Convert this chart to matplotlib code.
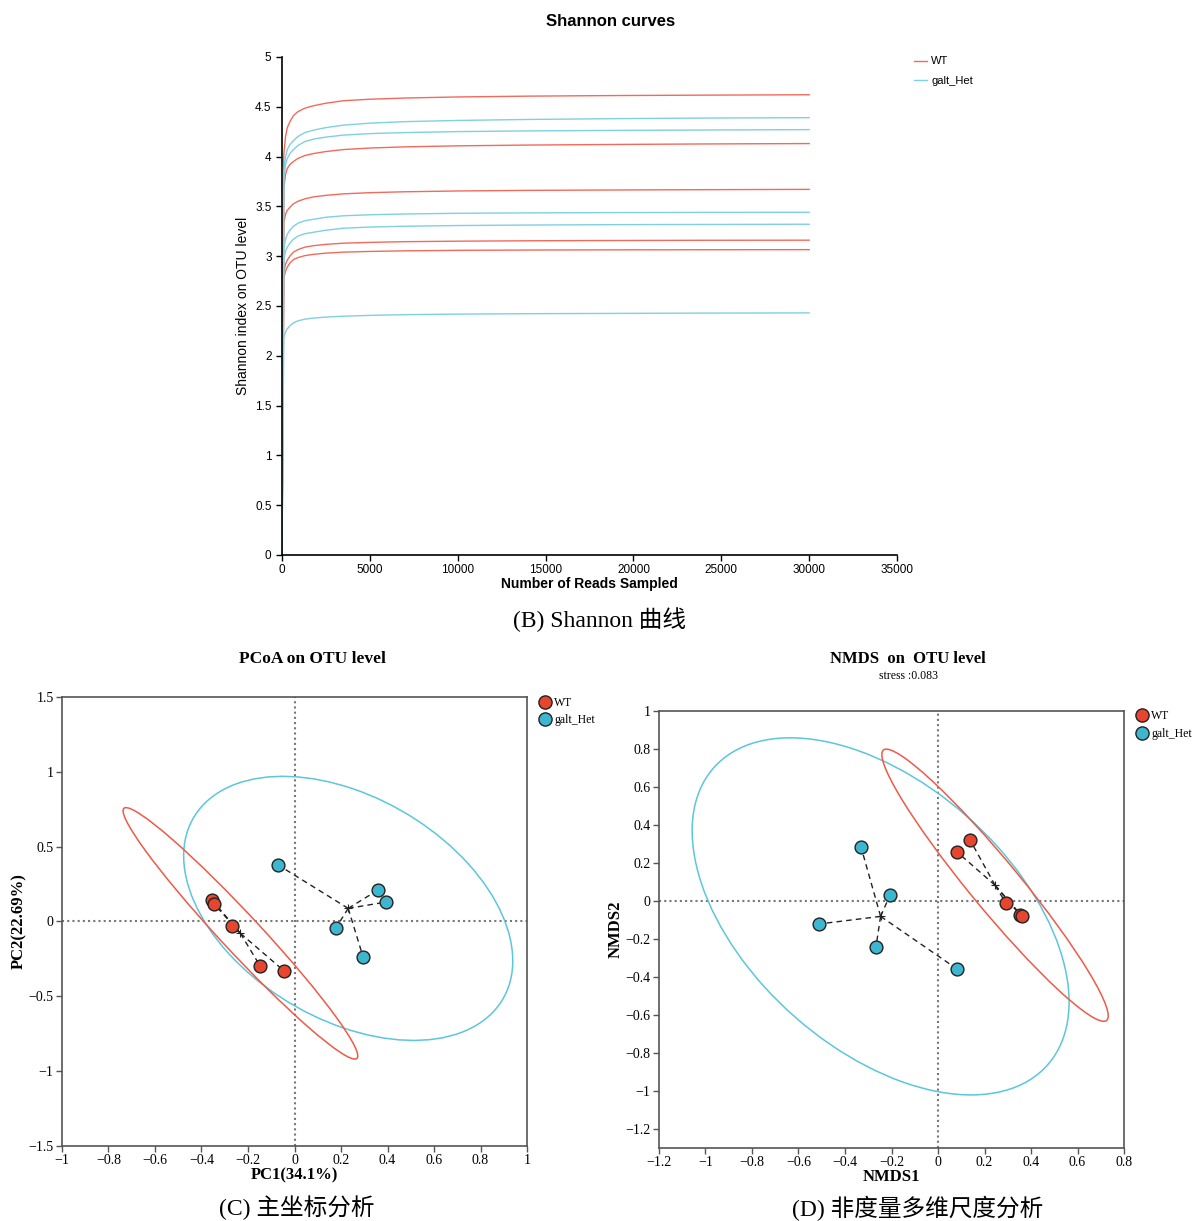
import numpy as np
import matplotlib
matplotlib.use("Agg")
import matplotlib.pyplot as plt
from matplotlib.patches import Ellipse
from matplotlib.ticker import FuncFormatter

# ---- Shannon rarefaction curves ----
reads = [0, 100, 200, 300, 450, 650, 900, 1300, 1800, 2500, 3500, 5000,
         7000, 10000, 14000, 19000, 24000, 30000]

wt_curves = [
    [0, 4.02, 4.20, 4.29, 4.35, 4.41, 4.45, 4.485, 4.51, 4.535, 4.56, 4.575,
     4.587, 4.598, 4.606, 4.612, 4.616, 4.62],
    [0, 3.68, 3.82, 3.88, 3.92, 3.95, 3.98, 4.01, 4.03, 4.05, 4.07, 4.085,
     4.097, 4.107, 4.115, 4.121, 4.126, 4.13],
    [0, 3.33, 3.42, 3.46, 3.49, 3.525, 3.55, 3.575, 3.595, 3.61, 3.625, 3.637,
     3.646, 3.654, 3.66, 3.664, 3.667, 3.67],
    [0, 2.84, 2.92, 2.96, 3.00, 3.04, 3.065, 3.09, 3.105, 3.118, 3.13, 3.138,
     3.145, 3.15, 3.154, 3.157, 3.159, 3.16],
    [0, 2.78, 2.85, 2.89, 2.93, 2.965, 2.985, 3.005, 3.018, 3.03, 3.04, 3.047,
     3.053, 3.058, 3.061, 3.063, 3.064, 3.065],
]
het_curves = [
    [0, 3.85, 4.00, 4.07, 4.12, 4.16, 4.20, 4.24, 4.265, 4.29, 4.315, 4.335,
     4.35, 4.362, 4.372, 4.38, 4.386, 4.39],
    [0, 3.78, 3.92, 3.98, 4.03, 4.07, 4.11, 4.15, 4.175, 4.195, 4.215, 4.23,
     4.24, 4.25, 4.257, 4.262, 4.266, 4.27],
    [0, 3.08, 3.17, 3.22, 3.26, 3.30, 3.33, 3.355, 3.37, 3.39, 3.405, 3.415,
     3.423, 3.43, 3.434, 3.437, 3.439, 3.44],
    [0, 2.97, 3.05, 3.09, 3.13, 3.17, 3.20, 3.225, 3.24, 3.26, 3.28, 3.292,
     3.30, 3.307, 3.312, 3.316, 3.318, 3.32],
    [0, 2.18, 2.24, 2.27, 2.30, 2.33, 2.35, 2.367, 2.378, 2.388, 2.397, 2.405,
     2.412, 2.418, 2.422, 2.425, 2.428, 2.43],
]

# ---- PCoA scores ----
pcoa_wt_x = [-0.355, -0.346, -0.269, -0.148, -0.045]
pcoa_wt_y = [0.144, 0.117, -0.030, -0.297, -0.330]
pcoa_het_x = [-0.071, 0.359, 0.394, 0.178, 0.295]
pcoa_het_y = [0.378, 0.210, 0.130, -0.043, -0.237]
# ellipse: width, height, angle (data units)
pcoa_wt_ell = [1.95, 0.194, -59.3]
pcoa_het_ell = [1.922, 1.192, -59.6]

# ---- NMDS scores ----
nmds_wt_x = [0.082, 0.138, 0.292, 0.353, 0.361]
nmds_wt_y = [0.258, 0.321, -0.011, -0.074, -0.079]
nmds_het_x = [-0.331, -0.206, -0.512, -0.267, 0.082]
nmds_het_y = [0.284, 0.032, -0.121, -0.242, -0.358]
nmds_wt_ell = [1.717, 0.228, -56.2]
nmds_het_ell = [2.147, 1.245, -53.6]

groups = ['WT', 'galt_Het']

line_red = '#F26A5A'
line_blue = '#7FD0E2'
pt_red = '#E8452E'
pt_blue = '#3DB6CF'
ell_red = '#EE5A48'
ell_blue = '#5CC6DB'

sans = ['Liberation Sans', 'DejaVu Sans']
serif = ['Liberation Serif', 'DejaVu Serif']
cap_font = ['Liberation Serif', 'Noto Sans CJK SC']

fig = plt.figure(figsize=(11.94, 12.21), dpi=100)

# ================= Shannon curves =================
ax = fig.add_axes([0.2362, 0.5455, 0.5151, 0.4079])
for c in wt_curves:
    ax.plot(reads, c, color=line_red, lw=1)
for c in het_curves:
    ax.plot(reads, c, color=line_blue, lw=1)
ax.set_xlim(0, 35000)
ax.set_ylim(0, 5)
ax.set_xticks(range(0, 35001, 5000))
ax.set_yticks(np.arange(0, 5.01, 0.5))
ax.yaxis.set_major_formatter(FuncFormatter(lambda v, p: '{:g}'.format(v)))
for s in ['top', 'right']:
    ax.spines[s].set_visible(False)
for s in ['left', 'bottom']:
    ax.spines[s].set_linewidth(1.2)
ax.tick_params(length=4, width=1, labelsize=8.5)
ax.tick_params(axis='x', pad=2.5)
for lab in ax.get_xticklabels() + ax.get_yticklabels():
    lab.set_family(sans)
ax.set_xlabel('Number of Reads Sampled', fontsize=10, fontweight='bold',
              family=sans, labelpad=1)
ax.set_ylabel('Shannon index on OTU level', fontsize=10, family=sans, labelpad=4)
h1, = ax.plot([], [], color=line_red, lw=1)
h2, = ax.plot([], [], color=line_blue, lw=1)
fig.legend([h1, h2], groups, loc='upper left', bbox_to_anchor=(0.757, 0.962),
           frameon=False, prop={'family': sans, 'size': 8}, handlelength=1.2,
           handletextpad=0.35, labelspacing=0.85)
fig.text(0.5117, 0.9828, 'Shannon curves', ha='center', va='center',
         fontsize=12, fontweight='bold', family=sans)
fig.text(0.5025, 0.4922, '(B) Shannon 曲线', ha='center', va='center',
         fontsize=17, family=cap_font)


def fmt(v, p):
    s = '{:g}'.format(round(v, 2) + 0.0)
    if s == '-0':
        s = '0'
    return s.replace('-', '\u2212')


def scatter_panel(ax, wx, wy, hx, hy, wel, hel, xlim, ylim, xticks, yticks):
    for px, py, el, ec in [(hx, hy, hel, ell_blue), (wx, wy, wel, ell_red)]:
        cx, cy = np.mean(px), np.mean(py)
        for x, y in zip(px, py):
            ax.plot([cx, x], [cy, y], color='#222222', lw=1, ls=(0, (4, 3)), zorder=3)
        ax.plot(cx, cy, marker='+', color='#222222', ms=6, mew=0.8, zorder=3)
        ax.add_patch(Ellipse((cx, cy), el[0], el[1], angle=el[2], fill=False,
                             ec=ec, lw=1.1, zorder=2))
    ax.scatter(wx, wy, s=85, color=pt_red, edgecolor='#222222', lw=1, zorder=4)
    ax.scatter(hx, hy, s=85, color=pt_blue, edgecolor='#222222', lw=1, zorder=4)
    ax.axhline(0, color='#777777', lw=1.5, ls=(0, (1, 1.5)), zorder=1)
    ax.axvline(0, color='#777777', lw=1.5, ls=(0, (1, 1.5)), zorder=1)
    ax.set_xlim(*xlim)
    ax.set_ylim(*ylim)
    ax.set_xticks(xticks)
    ax.set_yticks(yticks)
    ax.xaxis.set_major_formatter(FuncFormatter(fmt))
    ax.yaxis.set_major_formatter(FuncFormatter(fmt))
    for s in ax.spines.values():
        s.set_color('#555555')
        s.set_linewidth(1.2)
    ax.tick_params(length=4, width=1, labelsize=10, color='#555555', pad=2)
    for lab in ax.get_xticklabels() + ax.get_yticklabels():
        lab.set_family(serif)


def point_legend(x, y):
    hs = [plt.Line2D([], [], ls='none', marker='o', ms=9.5, mfc=c,
                     mec='#222222', mew=1) for c in [pt_red, pt_blue]]
    fig.legend(hs, groups, loc='upper left', bbox_to_anchor=(x, y), frameon=False,
               prop={'family': serif, 'size': 8.5}, handlelength=1.0,
               handletextpad=0.25, labelspacing=0.45, borderpad=0.2)


# ================= PCoA =================
ax2 = fig.add_axes([0.0519, 0.0614, 0.3895, 0.3678])
scatter_panel(ax2, pcoa_wt_x, pcoa_wt_y, pcoa_het_x, pcoa_het_y,
              pcoa_wt_ell, pcoa_het_ell, (-1, 1), (-1.5, 1.5),
              np.arange(-1, 1.01, 0.2), np.arange(-1.5, 1.51, 0.5))
ax2.set_xlabel('PC1(34.1%)', fontsize=12, fontweight='bold', family=serif, labelpad=0)
ax2.set_ylabel('PC2(22.69%)', fontsize=12, fontweight='bold', family=serif, labelpad=1)
point_legend(0.445, 0.436)
fig.text(0.2613, 0.4603, 'PCoA on OTU level', ha='center', va='center',
         fontsize=12.5, fontweight='bold', family=serif)
fig.text(0.2487, 0.0106, '(C) 主坐标分析', ha='center', va='center',
         fontsize=17, family=cap_font)

# ================= NMDS =================
ax3 = fig.add_axes([0.5519, 0.0598, 0.3895, 0.3579])
scatter_panel(ax3, nmds_wt_x, nmds_wt_y, nmds_het_x, nmds_het_y,
              nmds_wt_ell, nmds_het_ell, (-1.2, 0.8), (-1.3, 1),
              np.arange(-1.2, 0.81, 0.2), np.arange(-1.2, 1.01, 0.2))
ax3.set_xlabel('NMDS1', fontsize=12, fontweight='bold', family=serif, labelpad=0)
ax3.set_ylabel('NMDS2', fontsize=12, fontweight='bold', family=serif, labelpad=1)
point_legend(0.945, 0.425)
fig.text(0.7605, 0.4603, 'NMDS  on  OTU level', ha='center', va='center',
         fontsize=12, fontweight='bold', family=serif)
fig.text(0.7605, 0.4464, 'stress :0.083', ha='center', va='center',
         fontsize=8.5, family=serif)
fig.text(0.7688, 0.0106, '(D) 非度量多维尺度分析', ha='center', va='center',
         fontsize=17, family=cap_font)

fig.savefig('out.png', dpi=100)
